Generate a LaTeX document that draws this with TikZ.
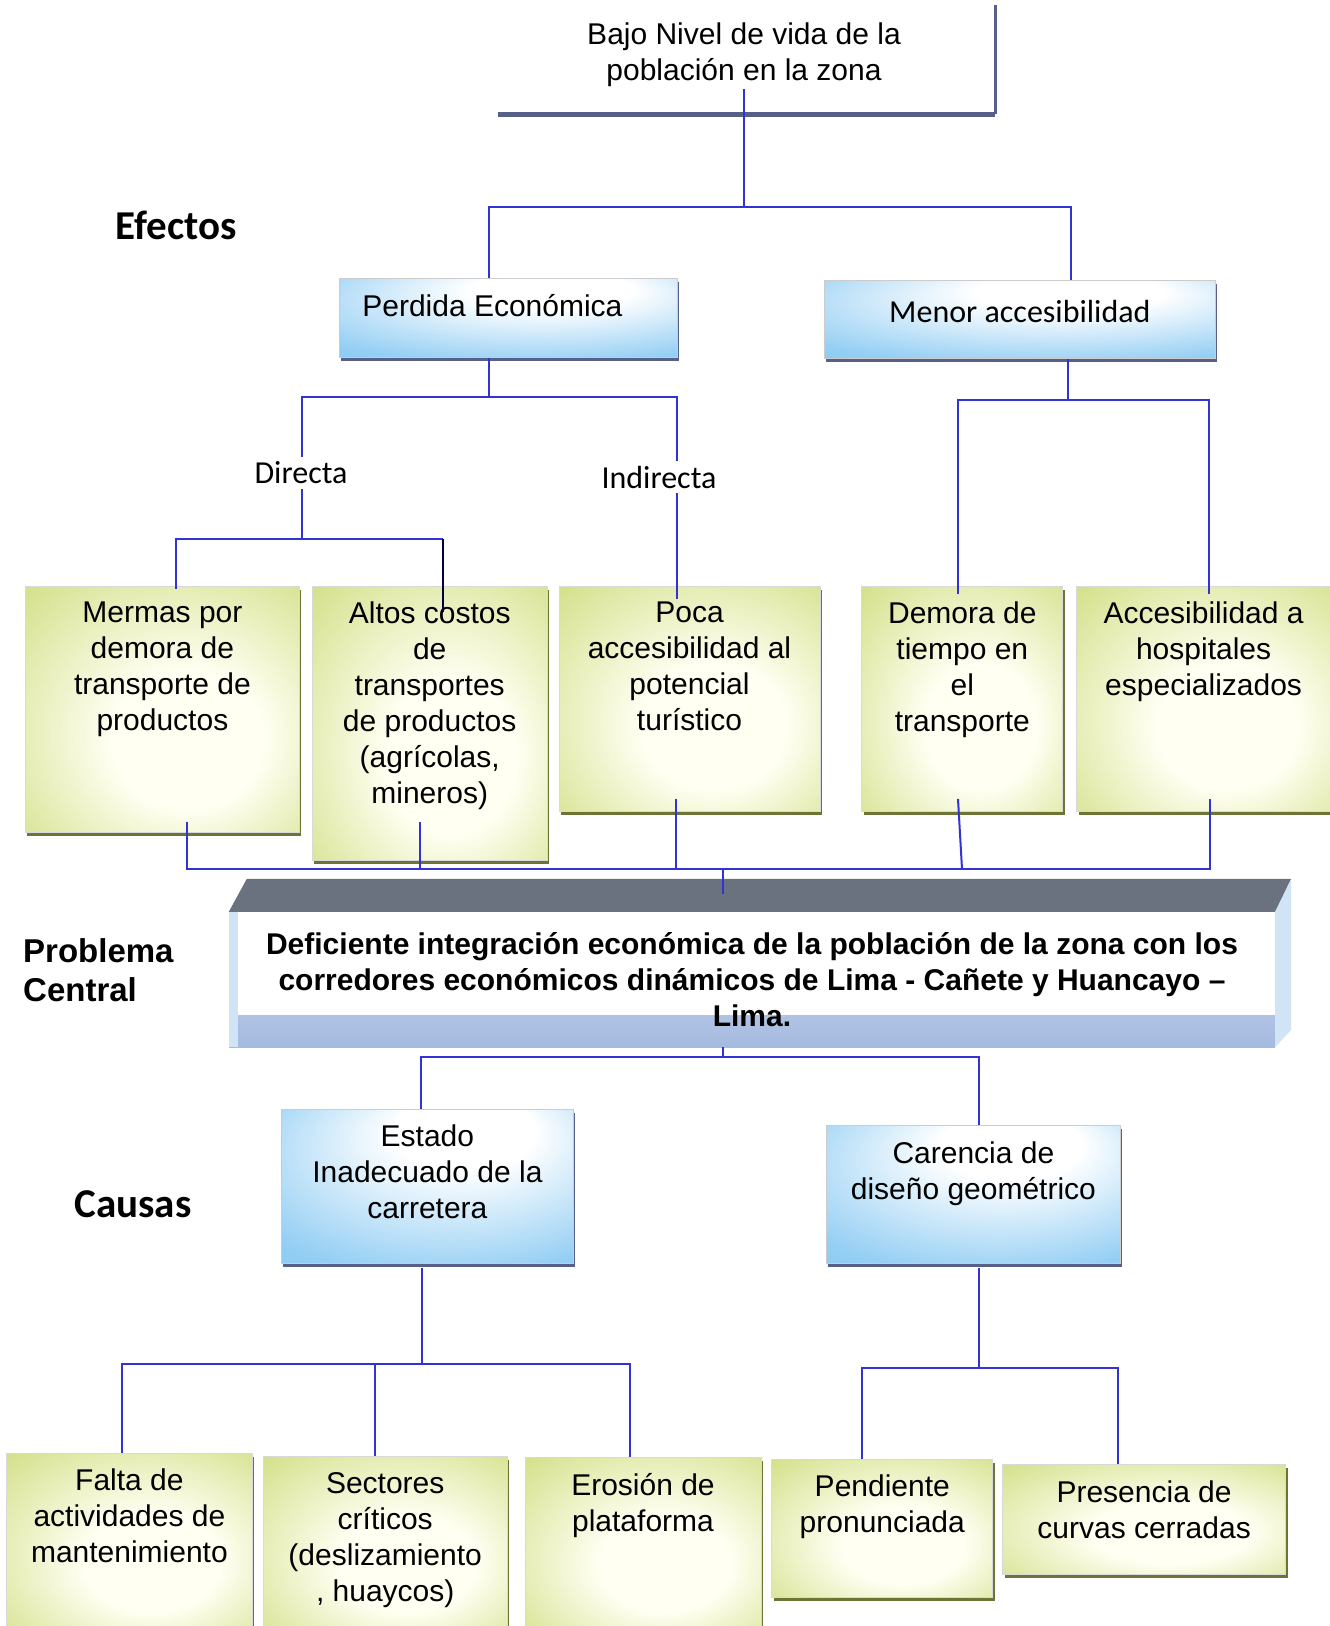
\documentclass[tikz,border=0pt]{standalone}
\usepackage{fontspec}
\setmainfont{Liberation Sans}
\newfontfamily\calibri{Carlito}
\usetikzlibrary{positioning,shadows}

\definecolor{linkblue}{RGB}{50,50,215}
\definecolor{slate}{RGB}{86,96,136}
\definecolor{skyblue}{RGB}{112,190,240}
\definecolor{olive}{RGB}{196,212,98}
\definecolor{cream}{RGB}{255,255,242}
\definecolor{roof}{RGB}{106,114,128}
\definecolor{paleblue}{RGB}{208,228,246}
\definecolor{bandblue}{RGB}{165,186,224}

\pgfdeclareradialshading{greenglow}{\pgfpoint{6bp}{-8bp}}{color(0bp)=(cream); color(14bp)=(cream); color(40bp)=(olive!75!cream); color(62bp)=(olive)}
\pgfdeclareradialshading{blueglow}{\pgfpoint{8bp}{22bp}}{color(0bp)=(white); color(12bp)=(white); color(38bp)=(skyblue!75!white); color(60bp)=(skyblue)}

\begin{document}
\begin{tikzpicture}[
    x=1pt, y=-1pt,
    font=\fontsize{30}{36}\selectfont,
    bluebox/.style={rectangle, anchor=north west, draw=black!20, line width=0.8pt,
        shade, shading=blueglow,
        drop shadow={shadow xshift=2pt, shadow yshift=-4pt, fill=slate, opacity=1}},
    greenbox/.style={rectangle, anchor=north west, draw=black!15, line width=0.8pt,
        shade, shading=greenglow,
        drop shadow={shadow xshift=2pt, shadow yshift=-4pt, fill=olive!55!black, opacity=1}},
    boxtext/.style={anchor=north, align=center, inner sep=0pt, yshift=-16pt},
    heading/.style={font=\calibri\bfseries\fontsize{41}{48}\selectfont, inner sep=0pt},
    branch/.style={font=\calibri\fontsize{32}{38}\selectfont, inner sep=5pt},
    front/.style={rectangle, fill=white, inner sep=0pt, align=center,
        font=\bfseries\fontsize{30}{36}\selectfont,
        path picture={
            \fill[top color=bandblue!45, bottom color=bandblue]
                ([yshift=32pt]path picture bounding box.south west) rectangle (path picture bounding box.south east);
            \fill[paleblue] (path picture bounding box.north west) rectangle ([xshift=9pt]path picture bounding box.south west);
        }},
    link/.style={linkblue, line width=2pt}
]
\useasboundingbox (0,0) rectangle (1330,1626);

% efectos
\node[heading] (efectos) at (176,225) {Efectos};
\node[align=center, inner sep=2pt] (bajo) at (744,55) {Bajo Nivel de vida de la\\población en la zona};
\draw[slate, line width=5pt] (498,114) -- (995,114);
\draw[slate, line width=3pt] (995,114) -- (995,5);

\node[bluebox, minimum width=338pt, minimum height=79pt,
    label={[boxtext, xshift=-16pt]north:Perdida Económica}] (perdida) at (339,278) {};
\node[bluebox, minimum width=391pt, minimum height=78pt,
    label={[boxtext, yshift=-4pt, font=\calibri\fontsize{32}{38}\selectfont]north:Menor accesibilidad}] (menor) at (824,280) {};

\node[branch] (directa) at (301,473) {Directa};
\node[branch] (indirecta) at (659,477) {Indirecta};

\node[greenbox, minimum width=274pt, minimum height=246pt,
    label={[boxtext]north:{Mermas por\\demora de\\transporte de\\productos}}] (mermas) at (25,586) {};
\node[greenbox, minimum width=235pt, minimum height=274pt, below right=0pt and 12pt of mermas.north east,
    label={[boxtext]north:{Altos costos\\de\\transportes\\de productos\\(agrícolas,\\mineros)}}] (altos) {};
\node[greenbox, minimum width=261pt, minimum height=225pt, below right=0pt and 11pt of altos.north east,
    label={[boxtext]north:{Poca\\accesibilidad al\\potencial\\turístico}}] (poca) {};
\node[greenbox, minimum width=201pt, minimum height=225pt, below right=0pt and 41pt of poca.north east,
    label={[boxtext]north:{Demora de\\tiempo en\\el\\transporte}}] (demora) {};
\node[greenbox, minimum width=254pt, minimum height=225pt, below right=0pt and 13pt of demora.north east,
    label={[boxtext]north:{Accesibilidad a\\hospitales\\especializados}}] (acceso) {};

% problema central
\node[front, minimum width=1046pt, minimum height=135pt] (problema) at (752,979.5)
    {Deficiente integración económica de la población de la zona con los\\corredores económicos dinámicos de Lima - Cañete y Huancayo –\\Lima.};
\fill[roof] (problema.north west) -- ++(18,-33) -- ([shift={(16,-33)}]problema.north east) -- (problema.north east) -- cycle;
\fill[paleblue] (problema.north east) -- ++(16,-33) -- ++(0,151) -- (problema.south east) -- cycle;
\node[font=\bfseries\fontsize{33}{39}\selectfont, align=left, anchor=west, inner sep=0pt] (central) at (23,970) {Problema\\Central};

% causas
\node[heading] (causas) at (133,1204) {Causas};
\node[bluebox, minimum width=292pt, minimum height=154pt,
    label={[boxtext]north:{Estado\\Inadecuado de la\\carretera}}] (estado) at (281,1109) {};
\node[bluebox, minimum width=294pt, minimum height=138pt,
    label={[boxtext, yshift=-1pt]north:{Carencia de\\diseño geométrico}}] (carencia) at (826,1125) {};

\node[greenbox, minimum width=246pt, minimum height=175pt,
    label={[boxtext]north:{Falta de\\actividades de\\mantenimiento}}] (falta) at (6,1453) {};
\node[greenbox, minimum width=244pt, minimum height=172pt, below right=3pt and 10pt of falta.north east,
    label={[boxtext]north:{Sectores\\críticos\\(deslizamiento\\, huaycos)}}] (sectores) {};
\node[greenbox, minimum width=236pt, minimum height=171pt, below right=1pt and 17pt of sectores.north east,
    label={[boxtext]north:{Erosión de\\plataforma}}] (erosion) {};
\node[greenbox, minimum width=221pt, minimum height=138pt, below right=2pt and 10pt of erosion.north east,
    label={[boxtext]north:{Pendiente\\pronunciada}}] (pendiente) {};
\node[greenbox, minimum width=283pt, minimum height=110pt, below right=5pt and 9pt of pendiente.north east,
    label={[boxtext, yshift=-1pt]north:{Presencia de\\curvas cerradas}}] (curvas) {};

% conectores efectos
\coordinate (e0) at (744,207);
\coordinate (e1) at (489,207);
\coordinate (e2) at (1071,207);
\draw[link] (bajo.south) -- (e0);
\draw[link] (e1 |- perdida.north) -- (e1) -- (e2) -- (e2 |- menor.north);

\coordinate (p0) at (489,397);
\coordinate (p1) at (302,397);
\coordinate (p2) at (677,397);
\draw[link] (perdida.south -| p0) -- (p0);
\draw[link] (p1 |- directa.north) -- (p1) -- (p2) -- (p2 |- indirecta.north);

\coordinate (d0) at (302,539);
\coordinate (d1) at (176,539);
\coordinate (d2) at (443,539);
\coordinate (d3) at (443,612);
\draw[link] (d0 |- directa.south) -- (d0);
\draw[link] ([yshift=-3pt]d1 |- mermas.north) -- (d1) -- (d2);
\draw[link, draw=black!75!blue] (d2) -- (d3);
\draw[link] (indirecta.south -| p2) -- ([yshift=-13pt]p2 |- poca.north);

\coordinate (m0) at (1068,400);
\coordinate (m1) at (958,400);
\coordinate (m2) at (1209,400);
\draw[link] (menor.south -| m0) -- (m0);
\draw[link] ([yshift=-8pt]m1 |- demora.north) -- (m1) -- (m2) -- ([yshift=-8pt]m2 |- acceso.north);

% conectores hacia el problema
\coordinate (c0) at (723,869);
\coordinate (c1) at (187,869);
\coordinate (c2) at (1210,869);
\coordinate (c3) at (420,869);
\coordinate (c4) at (676,869);
\coordinate (c5) at (962,869);
\draw[link] ([yshift=11pt]c1 |- mermas.south) -- (c1) -- (c2) -- ([yshift=13pt]c2 |- acceso.south);
\draw[link] ([yshift=39pt]c3 |- altos.south) -- (c3);
\draw[link] ([yshift=13pt]c4 |- poca.south) -- (c4);
\draw[link] ([xshift=-4pt, yshift=13pt]c5 |- demora.south) -- (c5);
\draw[link] (c0) -- ([yshift=18pt]c0 |- problema.north);

% conectores causas
\coordinate (k0) at (723,1057);
\coordinate (k1) at (421,1057);
\coordinate (k2) at (979,1057);
\draw[link] (k0 |- problema.south) -- (k0);
\draw[link] (k1 |- estado.north) -- (k1) -- (k2) -- (k2 |- carencia.north);

\coordinate (s0) at (422,1364);
\coordinate (s1) at (122,1364);
\coordinate (s2) at (630,1364);
\coordinate (s3) at (375,1364);
\draw[link] ([yshift=-4pt]estado.south -| s0) -- (s0);
\draw[link] (s1 |- falta.north) -- (s1) -- (s2) -- (s2 |- erosion.north);
\draw[link] (s3) -- (s3 |- sectores.north);

\coordinate (r0) at (979,1368);
\coordinate (r1) at (862,1368);
\coordinate (r2) at (1118,1368);
\draw[link] ([yshift=-4pt]carencia.south -| r0) -- (r0);
\draw[link] (r1 |- pendiente.north) -- (r1) -- (r2) -- (r2 |- curvas.north);
\end{tikzpicture}
\end{document}
